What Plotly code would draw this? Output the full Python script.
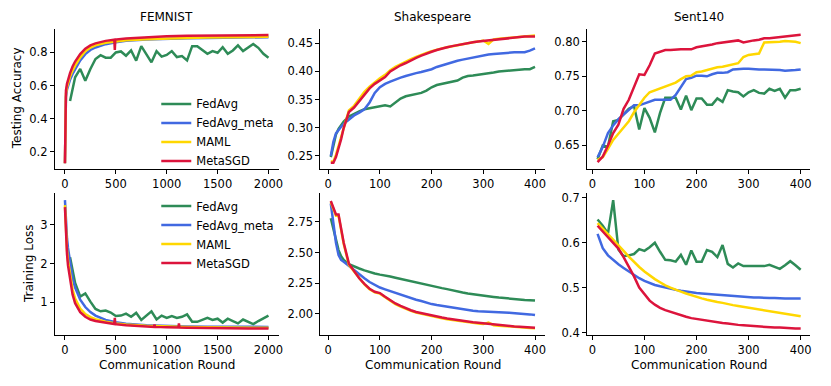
import plotly.graph_objects as go
from plotly.subplots import make_subplots

# page body has an 8px margin, so the figure is drawn 8px in from the screen edge
OFF = 8
W, H = 831 - 2 * OFF, 386 - 2 * OFF
COLORS = {"FedAvg": "#2E8B57", "FedAvg_meta": "#4169E1", "MAML": "#FFD700", "MetaSGD": "#DC143C"}

# ---------------- FEMNIST ----------------
fem_avg_x = [50, 100, 150, 200, 250, 300, 350, 400, 450, 500, 550, 600, 650, 700, 750, 800, 850, 900, 950, 1000,
             1050, 1100, 1150, 1200, 1250, 1300, 1350, 1400, 1450, 1500, 1550, 1600, 1650, 1700, 1750, 1800, 1850,
             1900, 1950, 2000]
fem_acc_avg = [0.506, 0.650, 0.700, 0.628, 0.700, 0.760, 0.783, 0.768, 0.768, 0.800, 0.806, 0.780, 0.812, 0.750,
               0.838, 0.792, 0.740, 0.808, 0.775, 0.785, 0.808, 0.772, 0.778, 0.752, 0.838, 0.838, 0.812, 0.792,
               0.808, 0.798, 0.832, 0.792, 0.812, 0.843, 0.808, 0.828, 0.851, 0.828, 0.792, 0.768]
fem_loss_avg = [2.16, 1.50, 1.15, 1.23, 1.02, 0.83, 0.77, 0.79, 0.74, 0.65, 0.66, 0.71, 0.63, 0.73, 0.55, 0.66,
                0.77, 0.56, 0.66, 0.60, 0.65, 0.60, 0.63, 0.69, 0.50, 0.50, 0.55, 0.60, 0.55, 0.58, 0.48, 0.58,
                0.52, 0.46, 0.56, 0.50, 0.44, 0.52, 0.58, 0.66]

fem_meta_x = [0, 5, 10, 20, 30, 50, 75, 100, 150, 200, 250, 300, 400, 500, 600, 800, 1000, 1200, 1400, 1600,
              1800, 2000]
fem_acc_meta = [0.13, 0.45, 0.53, 0.575, 0.60, 0.635, 0.67, 0.70, 0.752, 0.790, 0.815, 0.830, 0.850, 0.862,
                0.870, 0.878, 0.883, 0.886, 0.888, 0.890, 0.891, 0.892]
fem_acc_maml = [0.13, 0.48, 0.55, 0.59, 0.615, 0.655, 0.69, 0.72, 0.77, 0.808, 0.830, 0.843, 0.858, 0.867,
                0.873, 0.880, 0.885, 0.888, 0.890, 0.892, 0.893, 0.895]
fem_sgd_x = [0, 5, 10, 20, 30, 50, 75, 100, 150, 200, 250, 300, 400, 485, 490, 495, 600, 800, 1000, 1200, 1400,
             1600, 1800, 2000]
fem_acc_sgd = [0.13, 0.50, 0.57, 0.61, 0.635, 0.675, 0.715, 0.745, 0.790, 0.823, 0.843, 0.855, 0.870, 0.877,
               0.815, 0.878, 0.885, 0.893, 0.898, 0.901, 0.903, 0.904, 0.905, 0.905]

fem_loss_meta = [3.63, 3.35, 3.05, 2.65, 2.40, 2.00, 1.62, 1.38, 1.07, 0.88, 0.75, 0.66, 0.55, 0.49, 0.45, 0.41,
                 0.39, 0.38, 0.375, 0.37, 0.37, 0.37]
fem_loss_maml = [3.50, 3.10, 2.82, 2.35, 2.07, 1.70, 1.33, 1.10, 0.84, 0.70, 0.62, 0.57, 0.50, 0.46, 0.43, 0.40,
                 0.38, 0.37, 0.36, 0.35, 0.35, 0.345]
fem_sgd_loss_x = [0, 5, 10, 20, 30, 50, 75, 100, 150, 200, 250, 300, 400, 485, 490, 495, 600, 800, 875, 880, 885,
                  1000, 1115, 1120, 1125, 1200, 1400, 1600, 1800, 2000]
fem_loss_sgd = [3.45, 3.00, 2.72, 2.25, 1.95, 1.55, 1.20, 0.98, 0.75, 0.63, 0.56, 0.52, 0.47, 0.445, 0.60, 0.44,
                0.41, 0.38, 0.37, 0.43, 0.37, 0.36, 0.355, 0.46, 0.355, 0.35, 0.34, 0.335, 0.33, 0.33]

# ---------------- Shakespeare ----------------
sh_x = [5, 10, 15, 20, 25, 30, 40, 50, 60, 70, 80, 90, 100, 110, 120, 130, 140, 150, 160, 170, 180, 190, 200,
        210, 220, 230, 240, 250, 260, 270, 280, 290, 300, 310, 320, 330, 340, 350, 360, 370, 380, 390, 400]
sh_acc_avg = [0.248, 0.270, 0.288, 0.298, 0.305, 0.311, 0.320, 0.325, 0.329, 0.333, 0.335, 0.337, 0.339, 0.340,
              0.338, 0.345, 0.352, 0.356, 0.358, 0.360, 0.362, 0.366, 0.372, 0.376, 0.378, 0.379, 0.381, 0.384,
              0.389, 0.392, 0.393, 0.394, 0.396, 0.397, 0.398, 0.400, 0.401, 0.402, 0.403, 0.403, 0.404, 0.404,
              0.408]
sh_acc_meta = [0.250, 0.275, 0.290, 0.297, 0.302, 0.307, 0.315, 0.322, 0.327, 0.333, 0.345, 0.362, 0.372, 0.378,
               0.382, 0.386, 0.389, 0.392, 0.395, 0.397, 0.399, 0.401, 0.404, 0.408, 0.411, 0.414, 0.416, 0.419,
               0.421, 0.423, 0.425, 0.427, 0.428, 0.430, 0.431, 0.432, 0.433, 0.433, 0.434, 0.434, 0.434, 0.437,
               0.441]
sh_acc_maml = [0.240, 0.240, 0.252, 0.268, 0.285, 0.303, 0.331, 0.339, 0.352, 0.364, 0.373, 0.381, 0.388, 0.394,
               0.402, 0.408, 0.413, 0.417, 0.422, 0.426, 0.430, 0.433, 0.436, 0.439, 0.441, 0.443, 0.445, 0.447,
               0.449, 0.451, 0.452, 0.453, 0.455, 0.449, 0.457, 0.458, 0.459, 0.460, 0.461, 0.462, 0.463, 0.463,
               0.464]
sh_acc_sgd = [0.238, 0.238, 0.248, 0.262, 0.280, 0.300, 0.328, 0.336, 0.348, 0.360, 0.370, 0.378, 0.384, 0.390,
              0.400, 0.406, 0.411, 0.415, 0.420, 0.424, 0.428, 0.432, 0.435, 0.438, 0.441, 0.443, 0.445, 0.447,
              0.449, 0.450, 0.452, 0.453, 0.454, 0.456, 0.457, 0.458, 0.459, 0.460, 0.460, 0.461, 0.462, 0.462,
              0.462]
sh_loss_avg = [2.78, 2.70, 2.60, 2.52, 2.47, 2.44, 2.405, 2.385, 2.37, 2.355, 2.34, 2.33, 2.32, 2.315, 2.305,
               2.295, 2.285, 2.275, 2.265, 2.255, 2.245, 2.235, 2.225, 2.217, 2.21, 2.202, 2.195, 2.185, 2.175,
               2.167, 2.16, 2.155, 2.15, 2.144, 2.138, 2.133, 2.128, 2.124, 2.12, 2.117, 2.114, 2.112, 2.11]
sh_loss_meta = [2.90, 2.72, 2.58, 2.48, 2.44, 2.425, 2.39, 2.36, 2.32, 2.29, 2.26, 2.235, 2.215, 2.20, 2.185,
                2.17, 2.155, 2.14, 2.13, 2.115, 2.105, 2.09, 2.08, 2.072, 2.065, 2.057, 2.05, 2.042, 2.035, 2.03,
                2.025, 2.021, 2.018, 2.015, 2.012, 2.012, 2.012, 2.010, 2.008, 2.004, 2.0, 1.996, 1.99]
sh_loss_maml = [2.91, 2.86, 2.80, 2.80, 2.69, 2.57, 2.40, 2.345, 2.285, 2.24, 2.20, 2.175, 2.165, 2.135, 2.105,
                2.08, 2.06, 2.04, 2.025, 2.01, 2.0, 1.99, 1.98, 1.972, 1.965, 1.957, 1.95, 1.945, 1.94, 1.933,
                1.927, 1.922, 1.917, 1.93, 1.908, 1.904, 1.90, 1.897, 1.893, 1.89, 1.887, 1.885, 1.883]
sh_loss_sgd = [2.92, 2.87, 2.81, 2.81, 2.70, 2.58, 2.41, 2.35, 2.29, 2.245, 2.205, 2.18, 2.17, 2.14, 2.11,
               2.085, 2.065, 2.045, 2.03, 2.015, 2.005, 1.995, 1.985, 1.977, 1.97, 1.962, 1.955, 1.95, 1.945,
               1.938, 1.932, 1.927, 1.922, 1.917, 1.912, 1.908, 1.905, 1.901, 1.898, 1.895, 1.892, 1.89, 1.887]

# ---------------- Sent140 ----------------
se_x = [10, 20, 30, 40, 50, 60, 70, 80, 90, 100, 110, 120, 130, 140, 150, 160, 170, 180, 190, 200, 210, 220,
        230, 240, 250, 260, 270, 280, 290, 300, 310, 320, 330, 340, 350, 360, 370, 380, 390, 400]
se_acc_avg = [0.630, 0.650, 0.648, 0.685, 0.687, 0.695, 0.703, 0.707, 0.673, 0.704, 0.690, 0.669, 0.697, 0.719,
              0.719, 0.719, 0.702, 0.722, 0.701, 0.718, 0.718, 0.709, 0.709, 0.718, 0.713, 0.730, 0.728, 0.727,
              0.721, 0.727, 0.730, 0.726, 0.725, 0.732, 0.729, 0.732, 0.719, 0.730, 0.730, 0.732]
se_acc_meta = [0.633, 0.648, 0.668, 0.679, 0.688, 0.695, 0.702, 0.708, 0.708, 0.711, 0.714, 0.716, 0.716, 0.716,
               0.716, 0.723, 0.735, 0.746, 0.748, 0.751, 0.751, 0.750, 0.753, 0.755, 0.755, 0.756, 0.760, 0.761,
               0.761, 0.761, 0.760, 0.760, 0.760, 0.760, 0.760, 0.759, 0.758, 0.758, 0.759, 0.760]
se_acc_maml = [0.629, 0.633, 0.645, 0.658, 0.667, 0.676, 0.685, 0.698, 0.709, 0.719, 0.727, 0.730, 0.732, 0.735,
               0.738, 0.741, 0.746, 0.750, 0.751, 0.756, 0.757, 0.759, 0.762, 0.763, 0.764, 0.766, 0.768, 0.769,
               0.778, 0.781, 0.782, 0.783, 0.799, 0.799, 0.800, 0.800, 0.801, 0.801, 0.800, 0.798]
se_acc_sgd = [0.626, 0.634, 0.650, 0.668, 0.680, 0.703, 0.716, 0.735, 0.753, 0.752, 0.766, 0.783, 0.786, 0.788,
              0.788, 0.789, 0.789, 0.789, 0.789, 0.792, 0.793, 0.795, 0.796, 0.798, 0.799, 0.801, 0.802, 0.802,
              0.799, 0.801, 0.802, 0.803, 0.805, 0.805, 0.806, 0.807, 0.808, 0.809, 0.809, 0.810]
se_loss_avg = [0.652, 0.638, 0.621, 0.695, 0.585, 0.570, 0.572, 0.575, 0.586, 0.582, 0.590, 0.600, 0.580, 0.562,
               0.561, 0.558, 0.573, 0.551, 0.583, 0.558, 0.558, 0.584, 0.580, 0.568, 0.595, 0.553, 0.545, 0.554,
               0.548, 0.548, 0.548, 0.548, 0.548, 0.551, 0.546, 0.542, 0.550, 0.559, 0.550, 0.540]
se_loss_meta = [0.620, 0.588, 0.572, 0.561, 0.552, 0.544, 0.536, 0.528, 0.521, 0.515, 0.510, 0.506, 0.503,
                0.500, 0.497, 0.495, 0.493, 0.491, 0.490, 0.488, 0.487, 0.486, 0.485, 0.484, 0.483, 0.482, 0.481,
                0.480, 0.479, 0.479, 0.478, 0.478, 0.477, 0.477, 0.477, 0.476, 0.476, 0.476, 0.476, 0.476]
se_loss_maml = [0.644, 0.632, 0.619, 0.606, 0.594, 0.582, 0.569, 0.557, 0.546, 0.536, 0.527, 0.519, 0.512,
                0.505, 0.500, 0.495, 0.491, 0.487, 0.483, 0.479, 0.476, 0.473, 0.470, 0.468, 0.466, 0.463, 0.461,
                0.459, 0.457, 0.455, 0.453, 0.451, 0.449, 0.447, 0.445, 0.443, 0.441, 0.440, 0.438, 0.436]
se_loss_sgd = [0.638, 0.625, 0.613, 0.600, 0.587, 0.568, 0.547, 0.525, 0.500, 0.485, 0.471, 0.462, 0.455, 0.450,
               0.446, 0.442, 0.438, 0.435, 0.432, 0.430, 0.428, 0.426, 0.424, 0.423, 0.421, 0.420, 0.418, 0.417,
               0.416, 0.415, 0.414, 0.413, 0.412, 0.412, 0.411, 0.411, 0.410, 0.410, 0.409, 0.409]

panels = [
    # (row, col, [(name, x, y), ...])
    (1, 1, [("FedAvg", fem_avg_x, fem_acc_avg), ("FedAvg_meta", fem_meta_x, fem_acc_meta),
            ("MAML", fem_meta_x, fem_acc_maml), ("MetaSGD", fem_sgd_x, fem_acc_sgd)]),
    (1, 2, [("FedAvg", sh_x, sh_acc_avg), ("FedAvg_meta", sh_x, sh_acc_meta),
            ("MAML", sh_x, sh_acc_maml), ("MetaSGD", sh_x, sh_acc_sgd)]),
    (1, 3, [("FedAvg", se_x, se_acc_avg), ("FedAvg_meta", se_x, se_acc_meta),
            ("MAML", se_x, se_acc_maml), ("MetaSGD", se_x, se_acc_sgd)]),
    (2, 1, [("FedAvg", fem_avg_x, fem_loss_avg), ("FedAvg_meta", fem_meta_x, fem_loss_meta),
            ("MAML", fem_meta_x, fem_loss_maml), ("MetaSGD", fem_sgd_loss_x, fem_loss_sgd)]),
    (2, 2, [("FedAvg", sh_x, sh_loss_avg), ("FedAvg_meta", sh_x, sh_loss_meta),
            ("MAML", sh_x, sh_loss_maml), ("MetaSGD", sh_x, sh_loss_sgd)]),
    (2, 3, [("FedAvg", se_x, se_loss_avg), ("FedAvg_meta", se_x, se_loss_meta),
            ("MAML", se_x, se_loss_maml), ("MetaSGD", se_x, se_loss_sgd)]),
]

fig = make_subplots(rows=2, cols=3)

for row, col, series in panels:
    legend_name = {(1, 1): "legend", (2, 1): "legend2"}.get((row, col))
    for name, xs, ys in series:
        fig.add_trace(
            go.Scatter(x=xs, y=ys, mode="lines", name=name,
                       line=dict(color=COLORS[name], width=2.5),
                       showlegend=legend_name is not None,
                       legend=legend_name or "legend"),
            row=row, col=col,
        )

# screen pixel boxes of each axes (left, right) / (top, bottom)
col_px = [(55, 280), (322, 548), (590, 814)]
row_px = [(27, 170), (195, 339)]
x_ranges = [[-100, 2100], [-15, 420], [-10, 418]]
y_ranges = {(1, 1): [0.095, 0.944], (1, 2): [0.227, 0.476], (1, 3): [0.616, 0.819],
            (2, 1): [0.168, 3.80], (2, 2): [1.83, 2.982], (2, 3): [0.395, 0.710]}
y_ticks = {(1, 1): ([0.2, 0.4, 0.6, 0.8], ".1f"), (1, 2): ([0.25, 0.30, 0.35, 0.40, 0.45], ".2f"),
           (1, 3): ([0.65, 0.70, 0.75, 0.80], ".2f"), (2, 1): ([1, 2, 3], "d"),
           (2, 2): ([2.00, 2.25, 2.50, 2.75], ".2f"), (2, 3): ([0.4, 0.5, 0.6, 0.7], ".1f")}
x_ticks = [[0, 500, 1000, 1500, 2000], [0, 100, 200, 300, 400], [0, 100, 200, 300, 400]]


def px_x(p):
    return (p - OFF) / W


def px_y(p):
    return 1 - (p - OFF) / H


axis_style = dict(showline=True, linecolor="black", linewidth=1, ticks="outside", ticklen=4, tickwidth=1,
                  tickcolor="black", showgrid=False, zeroline=False, mirror=False,
                  tickfont=dict(size=11.5, color="black"))

for r in (1, 2):
    for c in (1, 2, 3):
        l, rt = col_px[c - 1]
        t, b = row_px[r - 1]
        fig.update_xaxes(domain=[px_x(l), px_x(rt)], range=x_ranges[c - 1], tickvals=x_ticks[c - 1],
                         row=r, col=c, **axis_style)
        vals, fmt = y_ticks[(r, c)]
        fig.update_yaxes(domain=[px_y(b), px_y(t)], range=y_ranges[(r, c)], tickvals=vals,
                         tickformat=fmt, row=r, col=c, **axis_style)

font_txt = dict(family="DejaVu Sans", size=12, color="black")
annotations = []
for c, title in enumerate(["FEMNIST", "Shakespeare", "Sent140"]):
    l, rt = col_px[c]
    annotations.append(dict(text=title, x=px_x((l + rt) / 2), y=px_y(15), xref="paper", yref="paper",
                            showarrow=False, font=font_txt, xanchor="center", yanchor="middle"))
    annotations.append(dict(text="Communication Round", x=px_x((l + rt) / 2), y=px_y(370), xref="paper",
                            yref="paper", showarrow=False, font=font_txt, xanchor="center", yanchor="middle"))
annotations.append(dict(text="Testing Accuracy", x=px_x(17), y=px_y(98), xref="paper", yref="paper",
                        showarrow=False, font=font_txt, textangle=-90, xanchor="center", yanchor="middle"))
annotations.append(dict(text="Training Loss", x=px_x(29), y=px_y(267), xref="paper", yref="paper",
                        showarrow=False, font=font_txt, textangle=-90, xanchor="center", yanchor="middle"))

legend_style = dict(bgcolor="rgba(0,0,0,0)", borderwidth=0, font=dict(family="DejaVu Sans", size=11.5,
                    color="black"), itemwidth=30, xanchor="left", yanchor="top", tracegroupgap=0)

fig.update_layout(
    width=W, height=H,
    margin=dict(l=0, r=0, t=0, b=0),
    paper_bgcolor="white", plot_bgcolor="white",
    font=dict(family="DejaVu Sans", size=11, color="black"),
    annotations=annotations,
    legend=dict(x=px_x(157), y=px_y(89), **legend_style),
    legend2=dict(x=px_x(157), y=px_y(193), **legend_style),
)

fig.write_html("out.html")
